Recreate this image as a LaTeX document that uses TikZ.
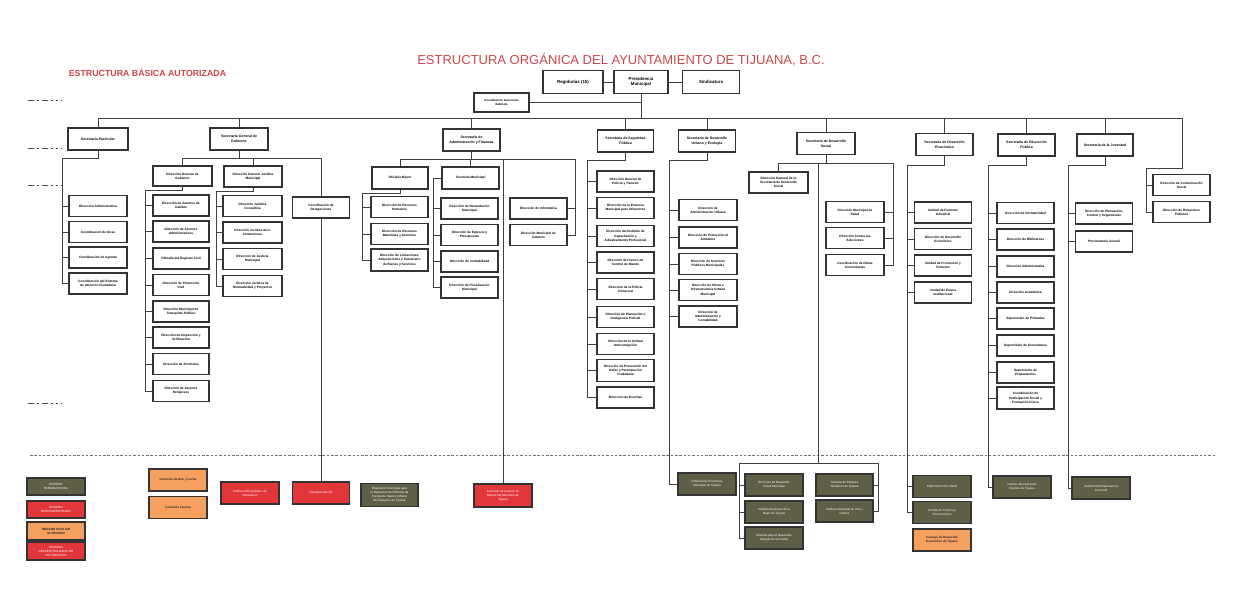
\documentclass[tikz,border=0pt]{standalone}
\usepackage{fontspec}
\setmainfont{Liberation Sans}
\definecolor{olivo}{HTML}{5E5F45}
\definecolor{rojo}{HTML}{E2363B}
\definecolor{naranja}{HTML}{F5A05E}
\definecolor{titulo}{HTML}{C8464C}

\begin{document}
\begin{tikzpicture}[x=1pt,y=-1pt,
    caja/.style={draw=black!80, line width=1.2pt, fill=white, minimum width=57, minimum height=21,
                 inner sep=0.5pt, align=center, font=\fontsize{3.2}{4.2}\selectfont\bfseries},
    secre/.style={caja, minimum height=22, font=\fontsize{3.5}{4.6}\selectfont\bfseries},
    cima/.style={caja, minimum height=23, font=\fontsize{4.4}{5.6}\selectfont\bfseries},
    para/.style={caja, fill=olivo, text=white, font=\fontsize{3}{4}\selectfont},
    desc/.style={caja, fill=rojo, text=white, font=\fontsize{3}{4}\selectfont},
    aux/.style={caja, fill=naranja, text=black!85, font=\fontsize{3}{4}\selectfont\bfseries},
    linea/.style={draw=black!75, line width=0.75pt},
    marca/.style={draw=black!70, line width=1pt,
                  dash pattern=on 6pt off 3pt on 2pt off 3pt on 6pt off 3pt on 2pt off 3pt on 2pt off 3pt}]

    \useasboundingbox (0,0) rectangle (1250,614);

    % titulos
    \node[text=titulo, font=\fontsize{13}{15}\selectfont] (tit) at (621,60) {ESTRUCTURA ORGÁNICA DEL AYUNTAMIENTO DE TIJUANA, B.C.};
    \node[text=titulo, font=\fontsize{8.8}{10}\selectfont\bfseries] (sub) at (147.5,73) {ESTRUCTURA BÁSICA AUTORIZADA};

    \draw[marca] (28,100) -- (62,100);
    \draw[marca] (28,148) -- (62,148);
    \draw[marca] (28,185) -- (62,185);
    \draw[marca] (28,403) -- (62,403);

    % nivel superior
    \node[cima, minimum width=60] (reg) at (573,82) {Regidurías (15)};
    \node[cima, minimum width=54] (pres) at (641,82) {Presidencia\\Municipal};
    \node[cima] (sind) at (711,82) {Sindicatura};
    \node[caja, minimum width=55, minimum height=19, font=\fontsize{2.9}{3.8}\selectfont\bfseries] (cgg) at (501.5,102.5) {Coordinación General de\\Gabinete};

    % secretarias
    \node[secre, minimum width=60] (sPart) at (98,139) {Secretaría Particular};
    \node[secre, minimum width=58] (sGob) at (239,139) {Secretaría General de\\Gobierno};
    \node[secre] (sAdm) at (471.5,140) {Secretaría de\\Administración y Finanzas};
    \node[secre, minimum width=56] (sSeg) at (625.5,141) {Secretaría de Seguridad\\Pública};
    \node[secre] (sUrb) at (707,141) {Secretaría de Desarrollo\\Urbano y Ecología};
    \node[secre, minimum width=58] (sSoc) at (826,143.5) {Secretaría de Desarrollo\\Social};
    \node[secre] (sEco) at (944.5,144.5) {Secretaría de Desarrollo\\Económico};
    \node[secre] (sEdu) at (1026.5,145) {Secretaría de Educación\\Pública};
    \node[secre, minimum width=56] (sJuv) at (1105,145) {Secretaría de la Juventud};

    % Particular
    \node[caja, minimum width=58] (pA) at (98,206) {Dirección Administrativa};
    \node[caja, minimum width=58] (pB) at (98,232) {Coordinación de Giras};
    \node[caja, minimum width=58] (pC) at (98,257.5) {Coordinación de Agenda};
    \node[caja, minimum width=58] (pD) at (98,283.5) {Coordinación del Sistema\\de Atención Ciudadana};

    % Gobierno
    \node[caja, minimum width=59, minimum height=20] (gA) at (182.5,176) {Dirección General de\\Gobierno};
    \node[caja, minimum width=58] (gB) at (253,176.5) {Dirección General Jurídica\\Municipal};
    \node[caja] (gC) at (321,207.5) {Coordinación de\\Delegaciones};
    \node[caja, minimum width=56] (gA1) at (181,205.5) {Dirección de Asuntos de\\Cabildo};
    \node[caja, minimum width=56] (gA2) at (181,231.5) {Dirección de Asuntos\\Administrativos};
    \node[caja, minimum width=56] (gA3) at (181,258.5) {Oficialía del Registro Civil};
    \node[caja, minimum width=56] (gA4) at (181,285) {Dirección de Protección\\Civil};
    \node[caja, minimum width=56] (gA5) at (181,311.5) {Dirección Municipal de\\Transporte Público};
    \node[caja, minimum width=56] (gA6) at (181,337.5) {Dirección de Inspección y\\Verificación};
    \node[caja, minimum width=56] (gA7) at (181,364) {Dirección de Alcoholes};
    \node[caja, minimum width=56] (gA8) at (181,391) {Dirección de Asuntos\\Religiosos};
    \node[caja, minimum width=59] (gB1) at (252.5,206) {Dirección Jurídica\\Consultiva};
    \node[caja, minimum width=59] (gB2) at (252.5,232.5) {Dirección Jurídica de lo\\Contencioso};
    \node[caja, minimum width=59] (gB3) at (252.5,259) {Dirección de Justicia\\Municipal};
    \node[caja, minimum width=59] (gB4) at (252.5,286) {Dirección Jurídica de\\Normatividad y Proyectos};

    % Administracion y Finanzas
    \node[caja, minimum width=56, minimum height=22] (aA) at (400,178) {Oficialía Mayor};
    \node[caja, minimum height=22] (aB) at (470.5,178) {Tesorería Municipal};
    \node[caja] (aA1) at (399.5,207) {Dirección de Recursos\\Humanos};
    \node[caja] (aA2) at (399.5,234) {Dirección de Recursos\\Materiales y Servicios};
    \node[caja, minimum height=22] (aA3) at (399.5,260) {Dirección de Licitaciones,\\Adquisiciones y Suministro\\de Bienes y Servicios};
    \node[caja] (aB1) at (469.5,208.5) {Dirección de Recaudación\\Municipal};
    \node[caja] (aB2) at (469.5,235) {Dirección de Egresos y\\Presupuesto};
    \node[caja] (aB3) at (469.5,261.5) {Dirección de Contabilidad};
    \node[caja] (aB4) at (469.5,287.5) {Dirección de Fiscalización\\Municipal};
    \node[caja] (aC) at (538.5,208.5) {Dirección de Informática};
    \node[caja] (aD) at (538.5,235) {Dirección Municipal de\\Catastro};

    % Seguridad Publica
    \node[caja] (s1) at (625.5,181.5) {Dirección General de\\Policía y Tránsito};
    \node[caja] (s2) at (625.5,208) {Dirección de la Estancia\\Municipal para Infractores};
    \node[caja] (s3) at (625.5,236) {Dirección del Instituto de\\Capacitación y\\Adiestramiento Profesional};
    \node[caja] (s4) at (625.5,262.5) {Dirección del Centro de\\Control de Mando};
    \node[caja] (s5) at (625.5,289) {Dirección de la Policía\\Comercial};
    \node[caja] (s6) at (625.5,317) {Dirección de Planeación e\\Inteligencia Policial};
    \node[caja] (s7) at (625.5,344) {Dirección de la Unidad\\Anticorrupción};
    \node[caja, minimum height=22] (s8) at (625.5,370.5) {Dirección de Prevención del\\Delito y Participación\\Ciudadana};
    \node[caja] (s9) at (625.5,397.5) {Dirección de Escoltas};

    % Desarrollo Urbano y Ecologia
    \node[caja, minimum width=58] (u1) at (708,210) {Dirección de\\Administración Urbana};
    \node[caja, minimum width=58] (u2) at (708,237.5) {Dirección de Protección al\\Ambiente};
    \node[caja, minimum width=58] (u3) at (708,264) {Dirección de Servicios\\Públicos Municipales};
    \node[caja, minimum width=58] (u4) at (708,290) {Dirección de Obras e\\Infraestructura Urbana\\Municipal};
    \node[caja, minimum width=58] (u5) at (708,316.5) {Dirección de\\Administración y\\Contabilidad};

    % Desarrollo Social
    \node[caja, minimum width=59] (oA) at (778.5,182.5) {Dirección General de la\\Secretaría de Desarrollo\\Social};
    \node[caja, minimum width=58] (o1) at (855,212) {Dirección Municipal de\\Salud};
    \node[caja, minimum width=58] (o2) at (855,238) {Dirección Contra las\\Adicciones};
    \node[caja, minimum width=58] (o3) at (855,265) {Coordinación de Obras\\Comunitarias};

    % Desarrollo Economico
    \node[caja] (e1) at (943,212.5) {Unidad de Fomento\\Industrial};
    \node[caja] (e2) at (943,239) {Dirección de Desarrollo\\Económico};
    \node[caja] (e3) at (943,265.5) {Unidad de Promoción y\\Fomento};
    \node[caja] (e4) at (943,292.5) {Unidad de Enlace\\Institucional};

    % Educacion Publica
    \node[caja] (d1) at (1025.5,213) {Dirección de Normatividad};
    \node[caja] (d2) at (1025.5,239.5) {Dirección de Bibliotecas};
    \node[caja] (d3) at (1025.5,266.5) {Dirección Administrativa};
    \node[caja] (d4) at (1025.5,292.5) {Dirección Académica};
    \node[caja] (d5) at (1025.5,318.5) {Supervisión de Primarias};
    \node[caja] (d6) at (1025.5,345.5) {Supervisión de Secundarias};
    \node[caja] (d7) at (1025.5,372.5) {Supervisión de\\Preparatorias};
    \node[caja, minimum height=22] (d8) at (1025.5,398) {Coordinación de\\Participación Social y\\Formación Cívica};

    % Juventud
    \node[caja] (j1) at (1104,213.5) {Dirección de Planeación,\\Control y Seguimiento};
    \node[caja] (j2) at (1104,241.5) {Procuraduría Juvenil};

    % Comunicacion
    \node[caja] (c1) at (1181.5,185) {Dirección de Comunicación\\Social};
    \node[caja] (c2) at (1181.5,212) {Dirección de Relaciones\\Públicas};

    % organos y entidades
    \node[aux, minimum width=58, minimum height=22] (box) at (178,480) {Comisión de Box y Lucha};
    \node[aux, minimum width=58, minimum height=22] (tau) at (178,507.5) {Comisión Taurina};
    \node[desc, minimum width=58, minimum height=22] (imp) at (250,493) {Instituto Metropolitano de\\Planeación};
    \node[desc, minimum height=22] (del) at (321,493) {Delegaciones (9)};
    \node[para, minimum height=23] (omt) at (389.5,495) {Organismo Municipal para\\la Operación del Sistema de\\Transporte Masivo Urbano\\de Pasajeros de Tijuana};
    \node[desc, minimum width=58, minimum height=23] (cab) at (503,495.5) {Comisión de Avalúos de\\Bienes del Municipio de\\Tijuana};
    \node[para, minimum width=58, minimum height=22] (fpm) at (707,484) {Fideicomiso Promotora\\Municipal de Tijuana};
    \node[para, minimum width=58, minimum height=22] (b1) at (774,485) {Dirección de Desarrollo\\Social Municipal};
    \node[para, minimum width=58, minimum height=22] (b2) at (774,512) {Instituto Municipal de la\\Mujer de Tijuana};
    \node[para, minimum width=58, minimum height=22] (b3) at (774,538) {Sistema para el Desarrollo\\Integral de la Familia};
    \node[para, minimum height=22] (b4) at (844.5,485) {Sistema de Parques\\Temáticos de Tijuana};
    \node[para, minimum height=22] (b5) at (844.5,511) {Instituto Municipal de Arte y\\Cultura};
    \node[para, minimum width=58, minimum height=22] (e5) at (942,486.5) {Fideicomiso Mi Crédito};
    \node[para, minimum width=58, minimum height=22] (e6) at (942,512.5) {Comité de Turismo y\\Convenciones};
    \node[aux, minimum width=58, minimum height=22] (e7) at (942,540) {Consejo de Desarrollo\\Económico de Tijuana};
    \node[para, minimum width=58, minimum height=22] (dep) at (1022,487) {Instituto Municipal del\\Deporte de Tijuana};
    \node[para, minimum width=58, minimum height=22] (jup) at (1101,488) {Instituto Municipal para la\\Juventud};

    % simbologia
    \node[para, minimum width=58, minimum height=17] (ley1) at (56,486.5) {ENTIDAD\\PARAMUNICIPAL};
    \node[desc, minimum width=58, minimum height=17] (ley2) at (56,509.5) {ÓRGANO\\DESCONCENTRADO};
    \node[aux, minimum width=58, minimum height=18] (ley3) at (56,531) {ÓRGANO AUXILIAR\\AUTÓNOMO};
    \node[desc, minimum width=58, minimum height=18] (ley4) at (56,551) {ÓRGANO\\DESCENTRALIZADO NO\\SECTORIZADO};

    % lineas
    \coordinate (bus) at (0,118);
    \coordinate (gBus) at (0,158);
    \coordinate (aBus) at (0,159);
    \coordinate (oBus) at (0,163);
    \coordinate (socBot) at (818,463);
    \coordinate (busR) at (1182,118);

    \draw[draw=black!55, line width=0.6pt, dash pattern=on 2.5pt off 1.8pt] (30,455) -- (1215,455);

    \path[linea]
    (reg.east) edge (pres.west)
    (pres.east) edge (sind.west)
    (pres.south) edge (pres.south |- bus)
    (cgg.east) edge (cgg.east -| pres.south);

    \draw[linea] (sPart.north |- bus) -- (busR) -- ++(0,50) -| ([xshift=-6pt]c2.west) -- (c2.west);
    \draw[linea] ([xshift=-6pt]c1.west) -- (c1.west);
    \path[linea]
    (sPart.north) edge (sPart.north |- bus)
    (sGob.north) edge (sGob.north |- bus)
    (sAdm.north) edge (sAdm.north |- bus)
    (sSeg.north) edge (sSeg.north |- bus)
    (sUrb.north) edge (sUrb.north |- bus)
    (sSoc.north) edge (sSoc.north |- bus)
    (sEco.north) edge (sEco.north |- bus)
    (sEdu.north) edge (sEdu.north |- bus)
    (sJuv.north) edge (sJuv.north |- bus);

    % Particular
    \draw[linea] (sPart.south) -- ++(0,8) -| ([xshift=-6pt]pD.west) -- (pD.west);
    \draw[linea] ([xshift=-6pt]pA.west) -- (pA.west) ([xshift=-6pt]pB.west) -- (pB.west)
                 ([xshift=-6pt]pC.west) -- (pC.west);

    % Gobierno
    \draw[linea] (sGob.south) -- (sGob.south |- gBus);
    \draw[linea] (gA.north) |- (gC.north |- gBus) -- (gC.north);
    \draw[linea] (gB.north) -- (gB.north |- gBus);
    \draw[linea] (gC.south) -- (del.north);
    \draw[linea] (gA.south) -- ++(0,4) -| ([xshift=-7pt]gA8.west) -- (gA8.west);
    \draw[linea] ([xshift=-7pt]gA1.west) -- (gA1.west) ([xshift=-7pt]gA2.west) -- (gA2.west)
                 ([xshift=-7pt]gA3.west) -- (gA3.west) ([xshift=-7pt]gA4.west) -- (gA4.west)
                 ([xshift=-7pt]gA5.west) -- (gA5.west) ([xshift=-7pt]gA6.west) -- (gA6.west)
                 ([xshift=-7pt]gA7.west) -- (gA7.west);
    \draw[linea] (gB.south) -- ++(0,4) -| ([xshift=-6pt]gB4.west) -- (gB4.west);
    \draw[linea] ([xshift=-6pt]gB1.west) -- (gB1.west) ([xshift=-6pt]gB2.west) -- (gB2.west)
                 ([xshift=-6pt]gB3.west) -- (gB3.west);

    % Administracion y Finanzas
    \draw[linea] (sAdm.south) -- (sAdm.south |- aBus);
    \draw[linea] (aA.north) |- ([xshift=8pt]aC.east |- aBus) |- (aD.east);
    \draw[linea] ([xshift=8pt]aC.east) -- (aC.east);
    \draw[linea] (aB.north) -- (aB.north |- aBus);
    \draw[linea] (cab.north |- aBus) -- (cab.north);
    \draw[linea] (aA.south) -- ++(0,4) -| ([xshift=-8pt]aA3.west) -- (aA3.west);
    \draw[linea] ([xshift=-8pt]aA1.west) -- (aA1.west) ([xshift=-8pt]aA2.west) -- (aA2.west);
    \draw[linea] (aB.west) -| ([xshift=-7pt]aB4.west) -- (aB4.west);
    \draw[linea] ([xshift=-7pt]aB1.west) -- (aB1.west) ([xshift=-7pt]aB2.west) -- (aB2.west)
                 ([xshift=-7pt]aB3.west) -- (aB3.west);

    % Seguridad Publica
    \draw[linea] (sSeg.south) -- ++(0,8) -| ([xshift=-9pt]s9.west) -- (s9.west);
    \draw[linea] ([xshift=-9pt]s1.west) -- (s1.west) ([xshift=-9pt]s2.west) -- (s2.west)
                 ([xshift=-9pt]s3.west) -- (s3.west) ([xshift=-9pt]s4.west) -- (s4.west)
                 ([xshift=-9pt]s5.west) -- (s5.west) ([xshift=-9pt]s6.west) -- (s6.west)
                 ([xshift=-9pt]s7.west) -- (s7.west) ([xshift=-9pt]s8.west) -- (s8.west);

    % Desarrollo Urbano y Ecologia
    \draw[linea] (sUrb.south) -- ++(0,8) -| ([xshift=-8pt]fpm.west) -- (fpm.west);
    \draw[linea] ([xshift=-9pt]u1.west) -- (u1.west) ([xshift=-9pt]u2.west) -- (u2.west)
                 ([xshift=-9pt]u3.west) -- (u3.west) ([xshift=-9pt]u4.west) -- (u4.west)
                 ([xshift=-9pt]u5.west) -- (u5.west);

    % Desarrollo Social
    \draw[linea] (sSoc.south) -- (sSoc.south |- oBus);
    \draw[linea] (oA.north) |- ([xshift=9pt]o1.east |- oBus) |- (o3.east);
    \draw[linea] ([xshift=9pt]o1.east) -- (o1.east) ([xshift=9pt]o2.east) -- (o2.east);
    \draw[linea] (socBot |- oBus) -- (socBot);
    \draw[linea] ([xshift=-5pt]b1.west |- socBot) -- ([xshift=5pt]b4.east |- socBot);
    \draw[linea] ([xshift=-5pt]b1.west |- socBot) |- (b3.west);
    \draw[linea] ([xshift=-5pt]b1.west) -- (b1.west) ([xshift=-5pt]b2.west) -- (b2.west);
    \draw[linea] ([xshift=5pt]b4.east |- socBot) |- (b5.east);
    \draw[linea] ([xshift=5pt]b4.east) -- (b4.east);

    % Desarrollo Economico
    \draw[linea] (sEco.south) -- ++(0,9) -| ([xshift=-5pt]e6.west) -- (e6.west);
    \draw[linea] ([xshift=-6.5pt]e1.west) -- (e1.west) ([xshift=-6.5pt]e2.west) -- (e2.west)
                 ([xshift=-6.5pt]e3.west) -- (e3.west) ([xshift=-6.5pt]e4.west) -- (e4.west)
                 ([xshift=-5pt]e5.west) -- (e5.west);

    % Educacion Publica
    \draw[linea] (sEdu.south) -- ++(0,9) -| ([xshift=-4pt]dep.west) -- (dep.west);
    \draw[linea] ([xshift=-8pt]d1.west) -- (d1.west) ([xshift=-8pt]d2.west) -- (d2.west)
                 ([xshift=-8pt]d3.west) -- (d3.west) ([xshift=-8pt]d4.west) -- (d4.west)
                 ([xshift=-8pt]d5.west) -- (d5.west) ([xshift=-8pt]d6.west) -- (d6.west)
                 ([xshift=-8pt]d7.west) -- (d7.west) ([xshift=-8pt]d8.west) -- (d8.west);

    % Juventud
    \draw[linea] (sJuv.south) -- ++(0,9) -| ([xshift=-3pt]jup.west) -- (jup.west);
    \draw[linea] ([xshift=-6.5pt]j1.west) -- (j1.west) ([xshift=-6.5pt]j2.west) -- (j2.west);

\end{tikzpicture}
\end{document}
